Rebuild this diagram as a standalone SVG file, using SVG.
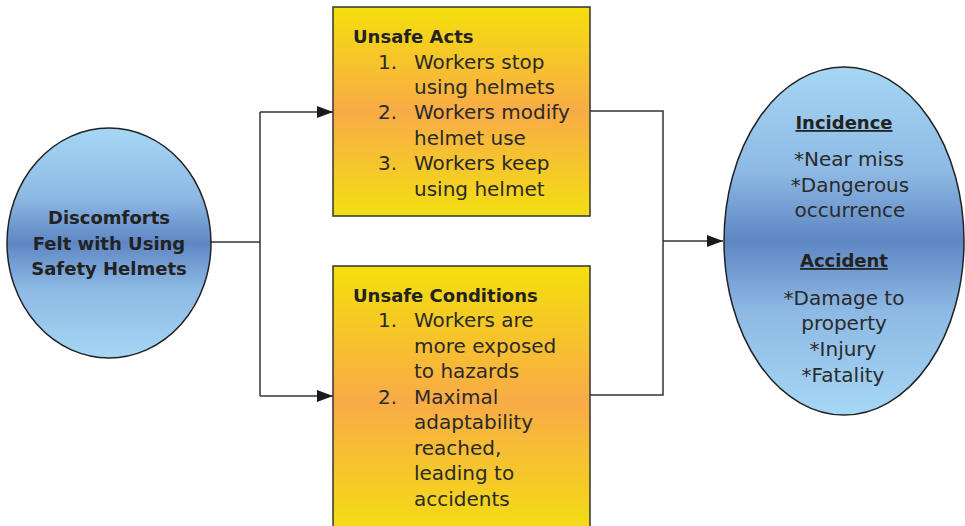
<svg xmlns="http://www.w3.org/2000/svg" width="965" height="526" viewBox="0 0 965 526">
<defs>
<linearGradient id="blue" x1="0" y1="0" x2="0" y2="1">
<stop offset="0" stop-color="#a6d7f4"/>
<stop offset="0.3" stop-color="#8db9e4"/>
<stop offset="0.5" stop-color="#5f86c3"/>
<stop offset="0.7" stop-color="#8db9e4"/>
<stop offset="1" stop-color="#a6d7f4"/>
</linearGradient>
<linearGradient id="yellow" x1="0" y1="0" x2="0" y2="1">
<stop offset="0" stop-color="#f4df0c"/>
<stop offset="0.5" stop-color="#f8ab47"/>
<stop offset="1" stop-color="#f3df12"/>
</linearGradient>
<marker id="arr" markerWidth="16" markerHeight="12" refX="16" refY="6" orient="auto" markerUnits="userSpaceOnUse">
<path d="M0,0 L16,6 L0,12 Z" fill="#1a1a1a"/>
</marker>
<style>
.ell{fill:url(#blue);stroke:#222;stroke-width:1.5}
.box{fill:url(#yellow);stroke:#333;stroke-width:1.5}
.t{font-family:"DejaVu Sans",sans-serif;font-size:20px;fill:#2a2a2a}
.b{font-family:"DejaVu Sans",sans-serif;font-weight:bold;font-size:18px;fill:#222}
.c{text-anchor:middle}
.ln{fill:none;stroke:#333;stroke-width:1.5}
</style>
</defs>

<g id="connectors">
<path class="ln" d="M211,242 H260"/>
<path class="ln" d="M260,112 V396"/>
<path class="ln" d="M260,112 H333" marker-end="url(#arr)"/>
<path class="ln" d="M260,396 H333" marker-end="url(#arr)"/>
<path class="ln" d="M590,111 H663 V395 H590"/>
<path class="ln" d="M663,241 H723" marker-end="url(#arr)"/>
</g>

<g id="discomforts">
<ellipse class="ell" cx="109" cy="243" rx="102" ry="115"/>
<text class="b c" x="109" y="224" font-size="17">Discomforts</text>
<text class="b c" x="109" y="250" font-size="17">Felt with Using</text>
<text class="b c" x="109" y="275" font-size="17">Safety Helmets</text>
</g>

<g id="unsafe-acts">
<rect class="box" x="333" y="7" width="257" height="209"/>
<text class="b" x="353" y="43">Unsafe Acts</text>
<text class="t" x="378" y="69">1.</text>
<text class="t" x="414" y="69">Workers stop</text>
<text class="t" x="414" y="94">using helmets</text>
<text class="t" x="378" y="119">2.</text>
<text class="t" x="414" y="119">Workers modify</text>
<text class="t" x="414" y="145">helmet use</text>
<text class="t" x="378" y="170">3.</text>
<text class="t" x="414" y="170">Workers keep</text>
<text class="t" x="414" y="196">using helmet</text>
</g>

<g id="unsafe-conditions">
<rect class="box" x="333" y="266" width="257" height="270"/>
<text class="b" x="353" y="302">Unsafe Conditions</text>
<text class="t" x="378" y="327">1.</text>
<text class="t" x="414" y="327">Workers are</text>
<text class="t" x="414" y="353">more exposed</text>
<text class="t" x="414" y="378">to hazards</text>
<text class="t" x="378" y="404">2.</text>
<text class="t" x="414" y="404">Maximal</text>
<text class="t" x="414" y="429">adaptability</text>
<text class="t" x="414" y="455">reached,</text>
<text class="t" x="414" y="480">leading to</text>
<text class="t" x="414" y="506">accidents</text>
</g>

<g id="outcomes">
<ellipse class="ell" cx="844" cy="241" rx="120" ry="174"/>
<text class="b c" x="844" y="129" font-size="19.5" text-decoration="underline">Incidence</text>
<text class="t c" x="849" y="166">*Near miss</text>
<text class="t c" x="850" y="192">*Dangerous</text>
<text class="t c" x="850" y="217">occurrence</text>
<text class="b c" x="844" y="267" font-size="19.5" text-decoration="underline">Accident</text>
<text class="t c" x="844" y="305">*Damage to</text>
<text class="t c" x="844" y="330">property</text>
<text class="t c" x="843" y="356">*Injury</text>
<text class="t c" x="843" y="382">*Fatality</text>
</g>
</svg>
